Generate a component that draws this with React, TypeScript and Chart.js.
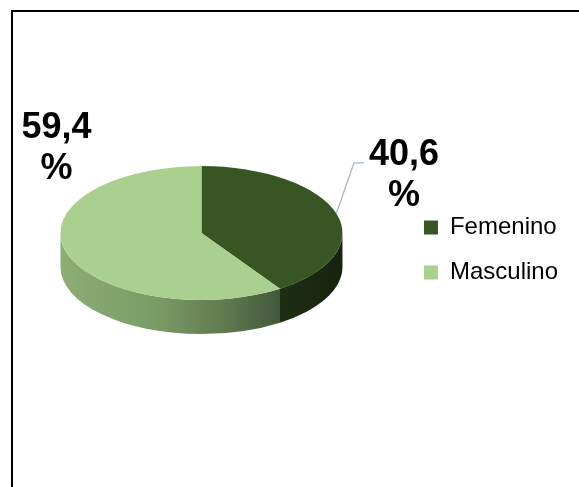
import React, { useEffect, useRef } from 'react';
import { Chart, registerables } from 'chart.js';

Chart.register(...registerables);

// ---- data ----
const categories = ['Femenino', 'Masculino'];
const percentages = [40.6, 59.4];
const sliceColors = ['#375623', '#a9d08e'];

const W = 579;
const H = 487;

const fmt = (v: number) => v.toFixed(1).replace('.', ',');

export default function App() {
  const ref = useRef<HTMLCanvasElement | null>(null);

  useEffect(() => {
    const canvas = ref.current;
    if (!canvas) return;

    const DEPTH = 34;
    const SQUASH = 0.475;
    const sideStops: [number, string][][] = [
      [[0, '#1e2e13'], [1, '#16230d']],
      [[0, '#8cae75'], [0.45, '#789a64'], [0.75, '#5f7a50'], [1, '#44573b']],
    ];
    const labelPlace = [
      { dx: 1.436, dy: -0.479, leader: true },
      { dx: -1.028, dy: -0.677, leader: false },
    ];

    const frame = {
      id: 'frame',
      beforeDraw(chart: any) {
        const c = chart.ctx;
        c.save();
        c.fillStyle = '#ffffff';
        c.fillRect(0, 0, chart.width, chart.height);
        c.fillStyle = '#000000';
        c.fillRect(11, 10, 2, chart.height - 10);
        c.fillRect(11, 10, chart.width - 11, 2);
        c.restore();
      },
    };

    const pie3d = {
      id: 'pie3d',
      beforeDatasetsDraw(chart: any) {
        const ctx = chart.ctx;
        const arcs = chart.getDatasetMeta(0).data;
        ctx.save();
        if (!arcs.length) return;
        const cx = arcs[0].x;
        const cy = arcs[0].y;
        const R = arcs[0].outerRadius;
        const fy = cy - DEPTH / 2;
        const ry = R * SQUASH;
        arcs.forEach((arc: any, i: number) => {
          for (const off of [0, 2 * Math.PI, -2 * Math.PI]) {
            const a1 = Math.max(arc.startAngle, off);
            const a2 = Math.min(arc.endAngle, off + Math.PI);
            if (a2 <= a1) continue;
            const x1 = cx + R * Math.cos(a1);
            const x2 = cx + R * Math.cos(a2);
            ctx.beginPath();
            ctx.ellipse(cx, fy, R, ry, 0, a1, a2, false);
            ctx.lineTo(cx + R * Math.cos(a2), fy + DEPTH + ry * Math.sin(a2));
            ctx.ellipse(cx, fy + DEPTH, R, ry, 0, a2, a1, true);
            ctx.closePath();
            const g = ctx.createLinearGradient(Math.min(x1, x2), 0, Math.max(x1, x2), 0);
            sideStops[i % sideStops.length].forEach(([p, c]) => g.addColorStop(p, c));
            ctx.fillStyle = g;
            ctx.fill();
          }
        });
        ctx.translate(cx, fy);
        ctx.scale(1, SQUASH);
        ctx.translate(-cx, -cy);
      },
      afterDatasetsDraw(chart: any) {
        const ctx = chart.ctx;
        ctx.restore();
        const arcs = chart.getDatasetMeta(0).data;
        if (!arcs.length) return;
        const cx = arcs[0].x;
        const cy = arcs[0].y;
        const R = arcs[0].outerRadius;
        const fy = cy - DEPTH / 2;
        const ry = R * SQUASH;
        ctx.save();
        ctx.font = 'bold 36px "Liberation Sans", Arial, sans-serif';
        ctx.textAlign = 'center';
        ctx.textBaseline = 'alphabetic';
        ctx.fillStyle = '#000000';
        arcs.forEach((arc: any, i: number) => {
          const place = labelPlace[i];
          const tx = cx + place.dx * R;
          const ty = fy + place.dy * R;
          const txt = fmt(percentages[i]);
          ctx.fillText(txt, tx, ty);
          ctx.fillText('%', tx, ty + 41);
          if (place.leader) {
            const mid = (arc.startAngle + arc.endAngle) / 2;
            const w = ctx.measureText(txt).width;
            const left = tx - w / 2;
            ctx.beginPath();
            ctx.moveTo(cx + R * Math.cos(mid), fy + ry * Math.sin(mid));
            ctx.lineTo(left - 15, ty - 2.5);
            ctx.lineTo(left - 5, ty - 2.5);
            ctx.strokeStyle = '#a8b6c9';
            ctx.lineWidth = 1.2;
            ctx.stroke();
          }
        });
        ctx.restore();
      },
    };

    const chart = new Chart(canvas, {
      type: 'pie',
      data: {
        labels: categories,
        datasets: [
          {
            data: percentages,
            backgroundColor: sliceColors,
            borderWidth: 0,
            radius: 141,
            clip: false,
          } as any,
        ],
      },
      options: {
        responsive: false,
        animation: false,
        events: [],
        layout: { padding: { left: -2, right: 11, top: 13, bottom: 0 } },
        plugins: {
          legend: {
            position: 'right',
            labels: {
              boxWidth: 14,
              boxHeight: 14,
              padding: 21,
              color: '#000000',
              font: { family: '"Liberation Sans", Arial, sans-serif', size: 24 },
            },
          },
          tooltip: { enabled: false },
        },
      } as any,
      plugins: [frame, pie3d],
    });

    return () => chart.destroy();
  }, []);

  return (
    <div style={{ position: 'absolute', left: 0, top: 0, width: W, height: H, background: '#fff' }}>
      <canvas ref={ref} width={W} height={H} style={{ display: 'block', width: W, height: H }} />
    </div>
  );
}
